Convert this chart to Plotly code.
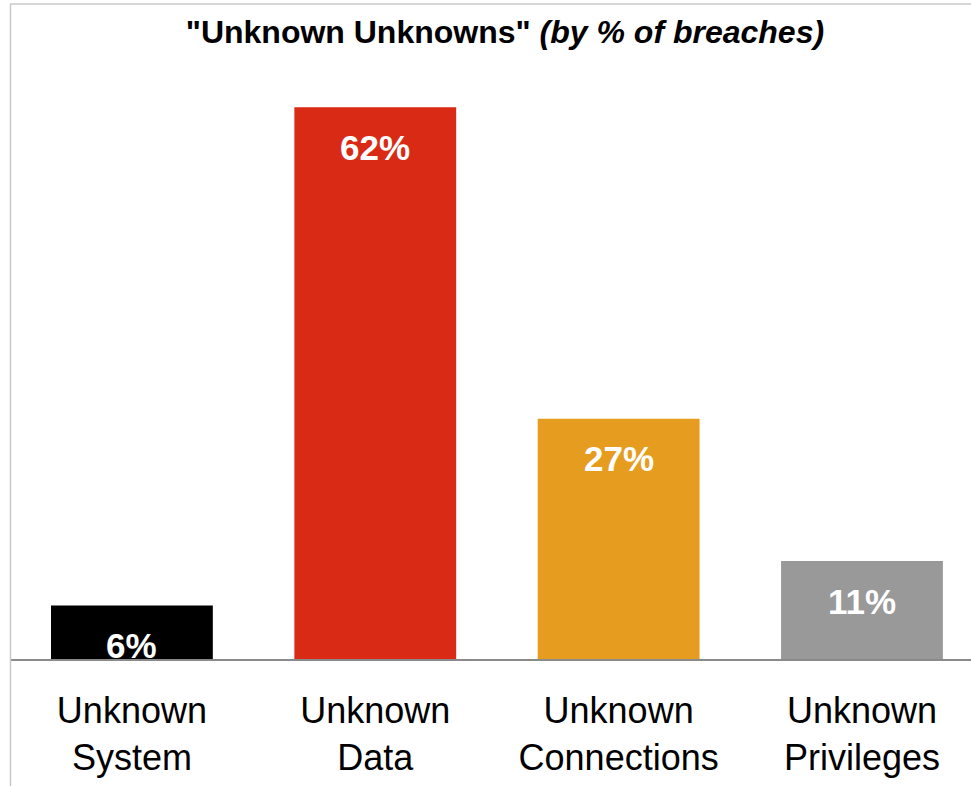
import plotly.graph_objects as go

categories = ["Unknown<br>System", "Unknown<br>Data", "Unknown<br>Connections", "Unknown<br>Privileges"]
values = [6, 62, 27, 11]
labels = ["6%", "62%", "27%", "11%"]
colors = ["#000000", "#d92a15", "#e69d1f", "#999999"]

FONT = "Liberation Sans, Arial, sans-serif"

fig = go.Figure()
fig.add_trace(go.Bar(
    x=list(range(len(categories))),
    y=values,
    marker=dict(color=colors, line=dict(width=0)),
    width=0.665,
    hoverinfo="skip",
))

for i, (v, t) in enumerate(zip(values, labels)):
    fig.add_annotation(
        x=i, y=v, xref="x", yref="y", text="<b>%s</b>" % t,
        showarrow=False, yshift=-40, yanchor="middle",
        font=dict(family=FONT, size=35, color="white"),
    )

fig.update_layout(
    width=971, height=786,
    margin=dict(l=10, r=0, t=60, b=127, pad=0),
    paper_bgcolor="white", plot_bgcolor="white",
    showlegend=False,
    title=dict(
        text='<b>"Unknown Unknowns" <i>(by % of breaches)</i></b>',
        x=0.515, xref="paper", xanchor="center",
        y=1 - 32 / 786, yref="container", yanchor="middle",
        font=dict(family=FONT, size=32, color="black"),
    ),
    xaxis=dict(
        range=[-0.501, 3.448],
        tickmode="array", tickvals=list(range(len(categories))), ticktext=categories,
        showline=True, linecolor="#8a8a8a", linewidth=2,
        ticks="", showgrid=False, zeroline=False,
        tickfont=dict(family=FONT, size=36, color="black"),
        ticklabelstandoff=19,
    ),
    yaxis=dict(
        range=[0, 67.3], visible=False, showgrid=False, zeroline=False,
    ),
    shapes=[
        dict(type="line", xref="paper", yref="paper",
             x0=0, x1=1, y0=(659 - 4) / 599, y1=(659 - 4) / 599,
             line=dict(color="#c8c8c8", width=1.5)),
        dict(type="line", xref="paper", yref="paper",
             x0=0.0005, x1=0.0005, y0=(659 - 4) / 599, y1=(659 - 786) / 599,
             line=dict(color="#c8c8c8", width=1.5)),
    ],
)

fig.write_html("out.html")
